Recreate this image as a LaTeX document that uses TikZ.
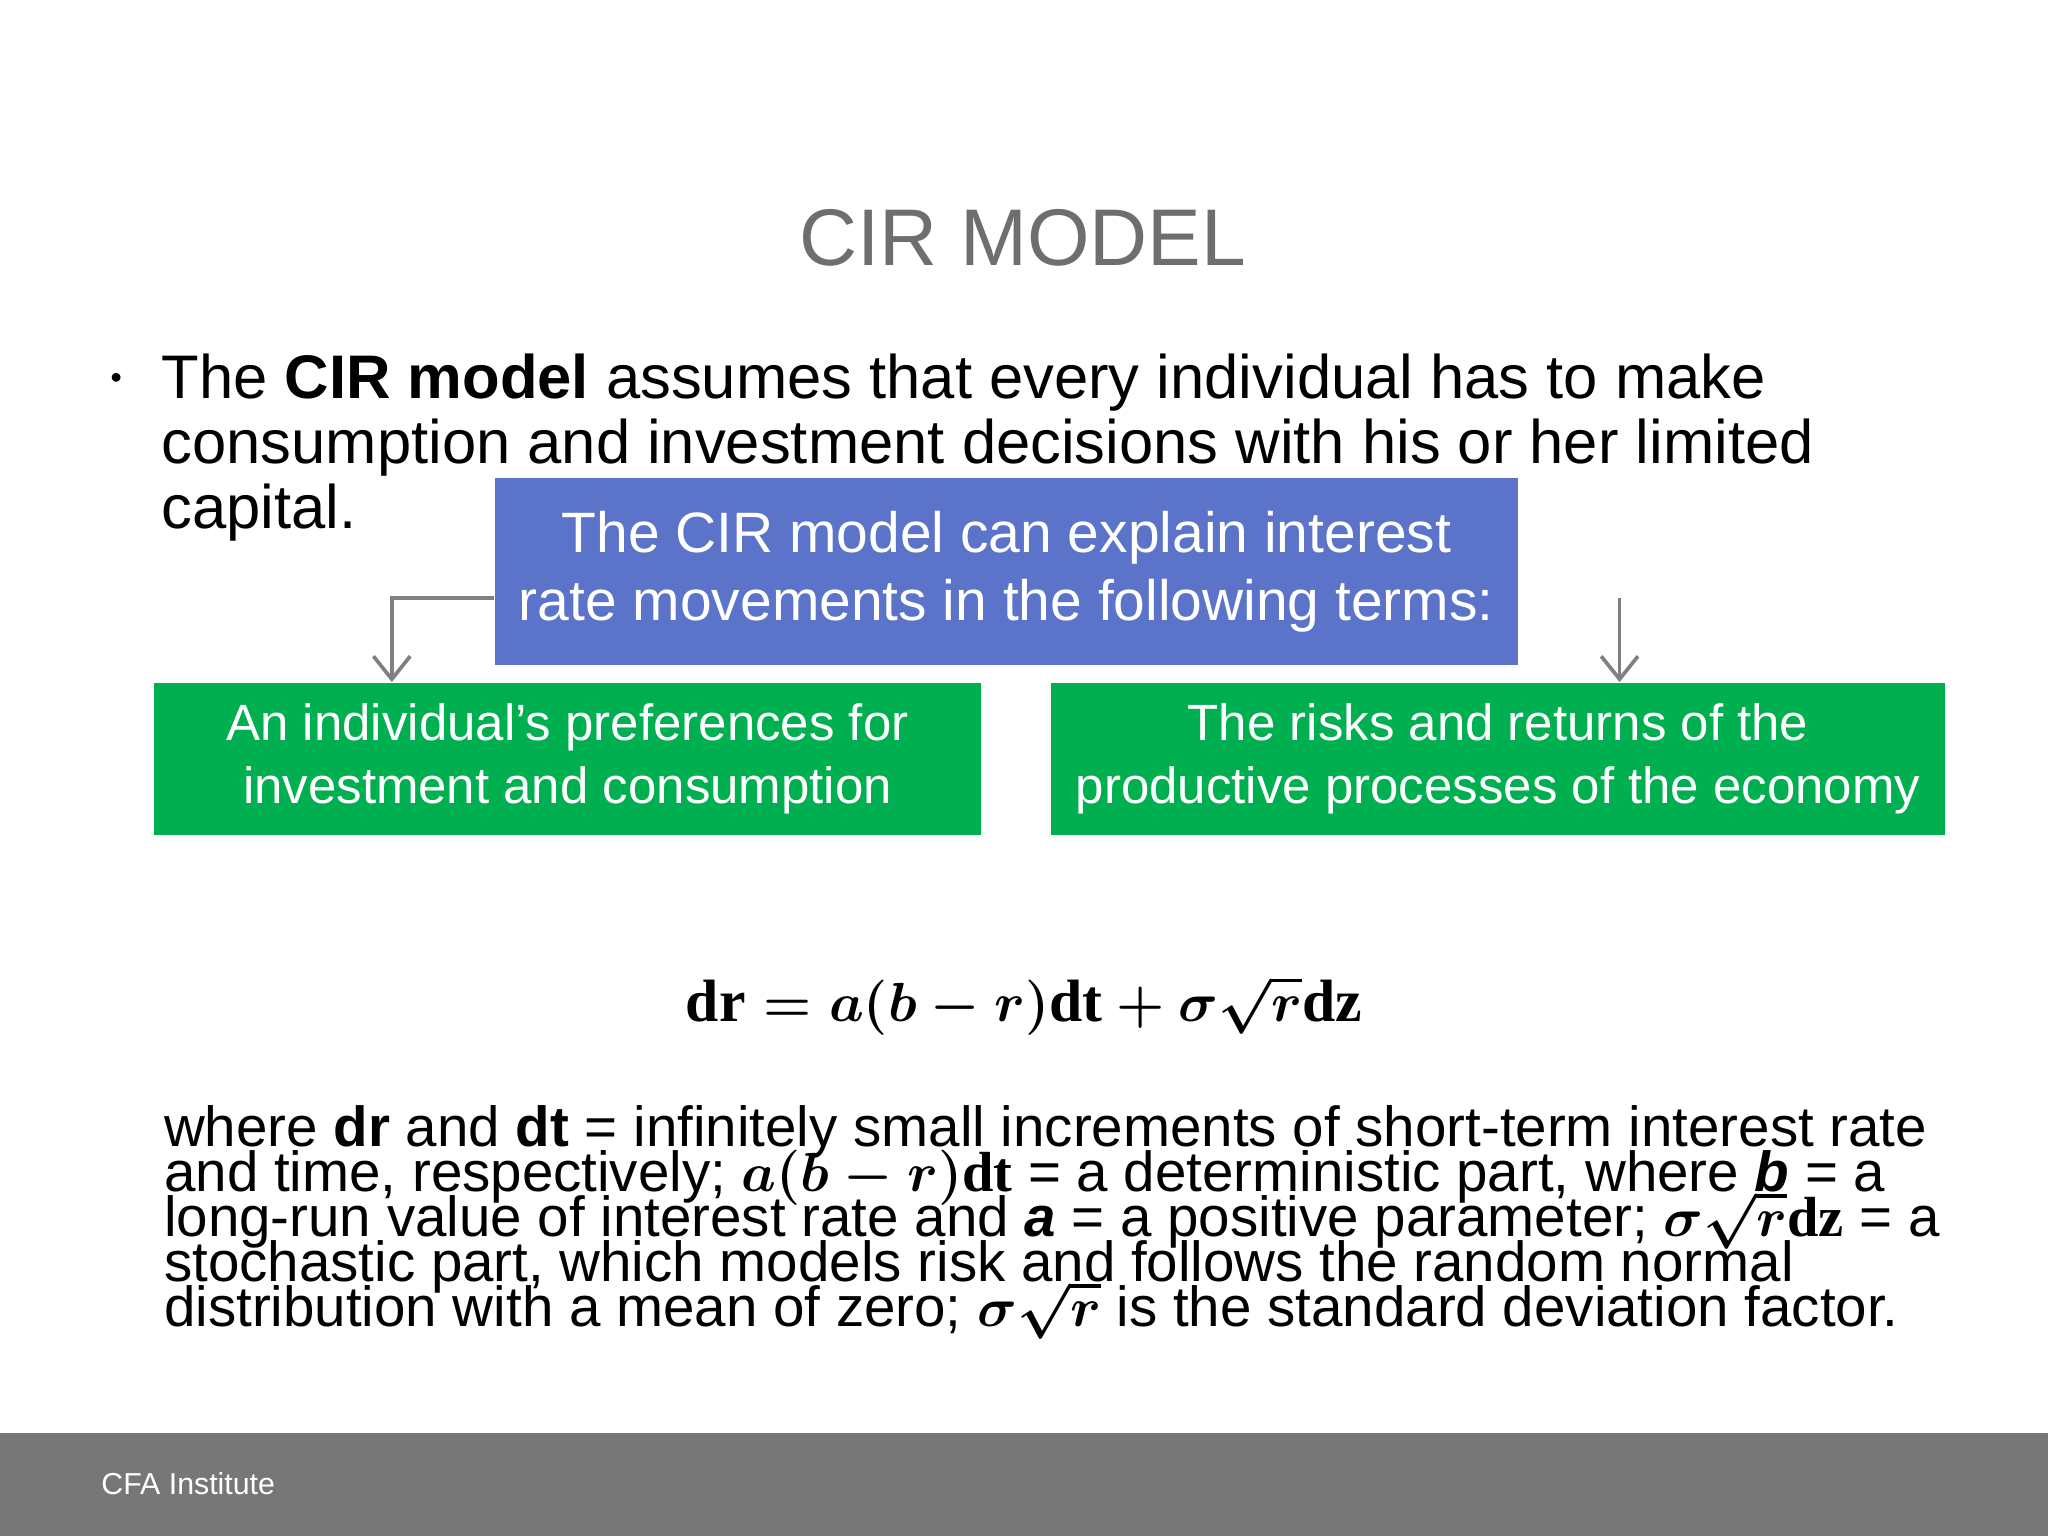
\documentclass[tikz,border=0pt]{standalone}
\usepackage{fontspec}
\setmainfont{Liberation Sans}
\newfontfamily\serifb{Liberation Serif}
\usetikzlibrary{arrows.meta}
\definecolor{bluebox}{HTML}{5B74C9}
\definecolor{greenbox}{HTML}{00B050}
\definecolor{titlegray}{HTML}{6E6E6E}
\definecolor{footgray}{HTML}{777777}
\newcommand{\bw}[1]{\mbox{\serifb\bfseries #1}}
\newcommand{\cireq}{\mbox{\boldmath$\bw{dr}=a(b-r)\bw{dt}+\sigma\sqrt{r}\bw{dz}$}}
\newcommand{\cirA}{\mbox{\boldmath$a(b-r)\bw{dt}$}}
\newcommand{\cirB}{\mbox{\boldmath$\sigma\sqrt{r}\bw{dz}$}}
\newcommand{\cirC}{\mbox{\boldmath$\sigma\sqrt{r}$}}
\tikzset{
  gbox/.style={fill=greenbox,text=white,align=center,font=\fontsize{11.1pt}{13.6pt}\selectfont,inner sep=0pt},
  conn/.style={draw=gray,line width=0.8pt,-{Straight Barb[length=5pt,width=8pt]}},
}
\begin{document}
\begin{tikzpicture}[x=0.01cm,y=-0.01cm]
\useasboundingbox (0,0) rectangle (1568,1176);
\fill[white] (0,0) rectangle (1568,1176);
\fill[footgray] (0,1097) rectangle (1568,1176);
\node[text=white,anchor=west,inner sep=0pt,font=\fontsize{6.6pt}{8pt}\selectfont] (foot) at (77,1136) {CFA Institute};
\node[text=titlegray,font=\fontsize{17.5pt}{20pt}\selectfont] (title) at (783,182) {CIR MODEL};
\node[anchor=north west,font=\fontsize{13.4pt}{14.2pt}\selectfont,align=left,inner sep=0pt] (bul) at (84,270)
 {\makebox[0.39cm][l]{\raisebox{2pt}{\scriptsize\textbullet}}The \textbf{CIR model} assumes that every individual has to make\\
  \hspace*{0.39cm}consumption and investment decisions with his or her limited\\
  \hspace*{0.39cm}capital.};
\node[fill=bluebox,text=white,align=center,minimum width=7.83cm,minimum height=1.43cm,inner sep=0pt,font=\fontsize{12.4pt}{14.8pt}\selectfont] (blue) at (770.5,437.5)
 {The CIR model can explain interest\\rate movements in the following terms:};
\node[gbox,minimum width=6.33cm,minimum height=1.16cm] (g1) at (434.5,581) {An individual’s preferences for\\investment and consumption};
\node[gbox,minimum width=6.84cm,minimum height=1.16cm] (g2) at (1147,581) {The risks and returns of the\\productive processes of the economy};
\coordinate (c1) at (300,458);
\coordinate (c2) at (1240,458);
\draw[conn] (blue.west |- c1) -- (c1) -- (c1 |- g1.north);
\draw[conn] (c2) -- (c2 |- g2.north);
\node[font=\fontsize{13pt}{16pt}\selectfont] (eq) at (784,770) {\cireq};
\node[anchor=north west,align=left,inner sep=0pt,font=\fontsize{12.3pt}{13pt}\selectfont] (para) at (125,846)
 {where \textbf{dr} and \textbf{dt} = infinitely small increments of short-term interest rate\\[-3.2pt]
  and time, respectively; \cirA{} = a deterministic part, where \textbf{\textit{b}} = a\\[-3.2pt]
  long-run value of interest rate and \textbf{\textit{a}} = a positive parameter; \cirB{} = a\\[-3.2pt]
  stochastic part, which models risk and follows the random normal\\[-3.2pt]
  distribution with a mean of zero; \cirC{} is the standard deviation factor.};
\end{tikzpicture}
\end{document}
